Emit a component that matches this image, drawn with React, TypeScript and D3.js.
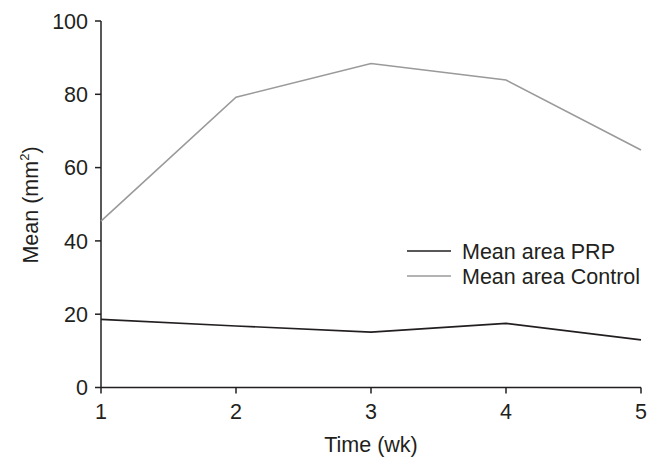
import React from "react";
import * as d3 from "d3";

const weeks = [1, 2, 3, 4, 5];
const prpValues = [18.6, 16.8, 15.1, 17.5, 13.0];
const controlValues = [45.4, 79.2, 88.4, 83.9, 64.8];
const yTicks = [0, 20, 40, 60, 80, 100];
const seriesNames = ["Mean area PRP", "Mean area Control"];
const seriesColors = ["#231f20", "#9a9a9a"];

export default function App() {
  const W = 661, H = 471;
  const x = d3.scaleLinear().domain([1, 5]).range([101, 641]);
  const y = d3.scaleLinear().domain([0, 100]).range([387.5, 21]);
  const line = d3.line<number>().x((_, i) => x(weeks[i])).y((d) => y(d));
  const font = "'Liberation Sans', Arial, Helvetica, sans-serif";
  const axisColor = "#231f20";
  const fs = 21.5;
  return (
    <svg width={W} height={H} style={{ position: "absolute", left: 0, top: 0 }} fontFamily={font}>
      <rect width={W} height={H} fill="#fff" />
      {/* axes */}
      <line x1={x(1)} x2={x(5)} y1={y(0)} y2={y(0)} stroke={axisColor} strokeWidth={1.5} />
      <line x1={x(1)} x2={x(1)} y1={y(0)} y2={y(100)} stroke={axisColor} strokeWidth={1.5} />
      {yTicks.map((t) => (
        <g key={t}>
          <line x1={x(1) - 6} x2={x(1)} y1={y(t)} y2={y(t)} stroke={axisColor} strokeWidth={1.5} />
          <text x={x(1) - 13} y={y(t)} dy="0.36em" textAnchor="end" fontSize={fs} fill={axisColor}>{t}</text>
        </g>
      ))}
      {weeks.map((w) => (
        <g key={w}>
          <line x1={x(w)} x2={x(w)} y1={y(0)} y2={y(0) + 6} stroke={axisColor} strokeWidth={1.5} />
          <text x={x(w)} y={y(0) + 31} textAnchor="middle" fontSize={fs} fill={axisColor}>{w}</text>
        </g>
      ))}
      <text x={371} y={452} textAnchor="middle" fontSize={fs} fill={axisColor}>Time (wk)</text>
      <text transform="translate(38,205) rotate(-90)" textAnchor="middle" fontSize={fs} fill={axisColor}>
        Mean (mm<tspan dy="-9" fontSize={13}>2</tspan><tspan dy="9">)</tspan>
      </text>
      {/* lines */}
      <path d={line(controlValues) || ""} fill="none" stroke={seriesColors[1]} strokeWidth={1.6} />
      <path d={line(prpValues) || ""} fill="none" stroke={seriesColors[0]} strokeWidth={1.6} />
      {/* legend */}
      {seriesNames.map((n, i) => (
        <g key={n}>
          <line x1={407} x2={451} y1={251 + i * 25} y2={251 + i * 25} stroke={seriesColors[i]} strokeWidth={1.6} />
          <text x={462} y={251 + i * 25} dy="0.36em" fontSize={fs} fill={axisColor}>{n}</text>
        </g>
      ))}
    </svg>
  );
}
